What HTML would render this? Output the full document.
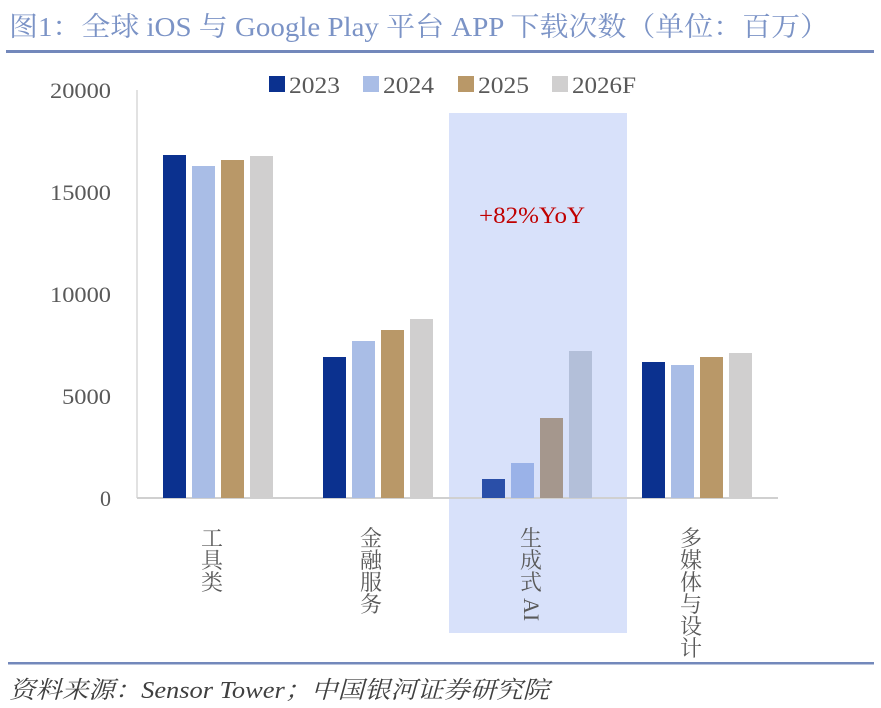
<!DOCTYPE html>
<html><head><meta charset="utf-8"><style>
body{margin:0;background:#fff;width:881px;height:708px;overflow:hidden}
svg{display:block}
text{font-family:"Liberation Serif","Noto Serif CJK SC",serif}
</style></head><body>
<svg width="881" height="708" viewBox="0 0 881 708" xmlns="http://www.w3.org/2000/svg">
<text x="9" y="36" font-size="27" fill="#7b93c6" textLength="820" lengthAdjust="spacingAndGlyphs">图1：全球 iOS 与 Google Play 平台 APP 下载次数（单位：百万）</text>
<rect x="6" y="50" width="868" height="3" fill="#7388bb"/>
<rect x="449" y="113" width="178" height="520" fill="#d8e1fa"/>
<line x1="137" y1="90" x2="137" y2="498" stroke="#d9d9d9" stroke-width="1.5"/>
<line x1="137" y1="498" x2="778" y2="498" stroke="#d0d0d0" stroke-width="2"/>
<g font-size="22" fill="#595959" text-anchor="end">
<text x="111" y="98" textLength="61" lengthAdjust="spacingAndGlyphs">20000</text>
<text x="111" y="200" textLength="61" lengthAdjust="spacingAndGlyphs">15000</text>
<text x="111" y="302" textLength="61" lengthAdjust="spacingAndGlyphs">10000</text>
<text x="111" y="404" textLength="49" lengthAdjust="spacingAndGlyphs">5000</text>
<text x="111" y="506">0</text>
</g>
<g font-size="23" fill="#595959">
<rect x="269" y="76" width="16" height="16" fill="#0b318f"/><text x="289" y="93" textLength="51" lengthAdjust="spacingAndGlyphs">2023</text>
<rect x="363" y="76" width="16" height="16" fill="#a9bde6"/><text x="383" y="93" textLength="51" lengthAdjust="spacingAndGlyphs">2024</text>
<rect x="458" y="76" width="16" height="16" fill="#b99868"/><text x="478" y="93" textLength="51" lengthAdjust="spacingAndGlyphs">2025</text>
<rect x="552" y="76" width="16" height="16" fill="#d0cfcf"/><text x="572" y="93" textLength="64" lengthAdjust="spacingAndGlyphs">2026F</text>
</g>
<g>
<rect x="163" y="155" width="23" height="343" fill="#0b318f"/>
<rect x="192" y="166" width="23" height="332" fill="#a9bde6"/>
<rect x="221" y="160" width="23" height="338" fill="#b99868"/>
<rect x="250" y="156" width="23" height="342" fill="#d0cfcf"/>
<rect x="323" y="357" width="23" height="141" fill="#0b318f"/>
<rect x="352" y="341" width="23" height="157" fill="#a9bde6"/>
<rect x="381" y="330" width="23" height="168" fill="#b99868"/>
<rect x="410" y="319" width="23" height="179" fill="#d0cfcf"/>
<rect x="482" y="479" width="23" height="19" fill="#2a4fa8"/>
<rect x="511" y="463" width="23" height="35" fill="#9ab2e8"/>
<rect x="540" y="418" width="23" height="80" fill="#a5978d"/>
<rect x="569" y="351" width="23" height="147" fill="#b3bfd9"/>
<rect x="642" y="362" width="23" height="136" fill="#0b318f"/>
<rect x="671" y="365" width="23" height="133" fill="#a9bde6"/>
<rect x="700" y="357" width="23" height="141" fill="#b99868"/>
<rect x="729" y="353" width="23" height="145" fill="#d0cfcf"/>
</g>
<text x="532" y="223" font-size="23" fill="#c00000" text-anchor="middle" textLength="106" lengthAdjust="spacingAndGlyphs">+82%YoY</text>
<g font-size="22" fill="#595959" text-anchor="middle">
<text x="212" y="546">工</text><text x="212" y="568">具</text><text x="212" y="590">类</text>
<text x="371" y="546">金</text><text x="371" y="568">融</text><text x="371" y="590">服</text><text x="371" y="612">务</text>
<text x="531" y="546">生</text><text x="531" y="568">成</text><text x="531" y="590">式</text>
<text x="531" y="598" transform="rotate(90 531 598)" text-anchor="start" dy="7">AI</text>
<text x="691" y="546">多</text><text x="691" y="568">媒</text><text x="691" y="590">体</text><text x="691" y="612">与</text><text x="691" y="634">设</text><text x="691" y="656">计</text>
</g>
<rect x="8" y="662" width="866" height="2.5" fill="#7388bb"/>
<text x="9" y="698" font-size="24" font-style="italic" fill="#404040" textLength="540" lengthAdjust="spacingAndGlyphs">资料来源：Sensor Tower；中国银河证券研究院</text>
</svg>
</body></html>
